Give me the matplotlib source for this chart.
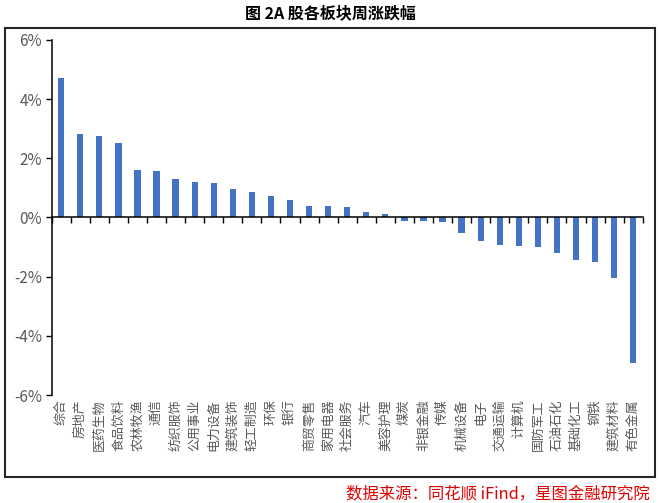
import numpy as np
import matplotlib.pyplot as plt
from matplotlib.patches import Rectangle
from matplotlib.ticker import FuncFormatter, FixedLocator, NullFormatter

plt.rcParams["font.family"] = ["Noto Sans CJK SC", "DejaVu Sans"]

# weekly change by sector (%)
sectors = ["综合", "房地产", "医药生物", "食品饮料", "农林牧渔", "通信", "纺织服饰",
           "公用事业", "电力设备", "建筑装饰", "轻工制造", "环保", "银行", "商贸零售",
           "家用电器", "社会服务", "汽车", "美容护理", "煤炭", "非银金融", "传媒",
           "机械设备", "电子", "交通运输", "计算机", "国防军工", "石油石化", "基础化工",
           "钢铁", "建筑材料", "有色金属"]
changes = [4.71, 2.82, 2.77, 2.52, 1.60, 1.58, 1.30,
           1.19, 1.18, 0.96, 0.87, 0.74, 0.59, 0.40,
           0.40, 0.37, 0.18, 0.13, -0.12, -0.12, -0.15,
           -0.54, -0.79, -0.93, -0.97, -0.99, -1.20, -1.42,
           -1.50, -2.04, -4.93]
yticks = [-6, -4, -2, 0, 2, 4, 6]

fig = plt.figure(figsize=(6.6, 5.03), dpi=100)
ax = fig.add_axes([0.0783, 0.2147, 0.8955, 0.7058])

x = np.arange(len(sectors))
ax.bar(x, changes, width=0.33, color="#4472C4", zorder=2)

ax.set_xlim(-0.5, len(sectors) - 0.5)
ax.set_ylim(-6, 6)
ax.set_yticks(yticks)
ax.yaxis.set_major_formatter(FuncFormatter(lambda v, p: f"{v:.0f}%"))
ax.tick_params(axis="y", direction="out", length=4, width=1, color="black",
               labelsize=11, labelcolor="#595959", pad=3)

# x axis drawn at zero with ticks between categories
ax.spines["bottom"].set_position(("data", 0))
ax.xaxis.set_major_locator(FixedLocator(np.arange(len(sectors) + 1) - 0.5))
ax.xaxis.set_major_formatter(NullFormatter())
ax.tick_params(axis="x", direction="out", length=4, width=1, color="black")
for side in ["top", "right"]:
    ax.spines[side].set_visible(False)
ax.spines["left"].set_linewidth(1.1)
ax.spines["bottom"].set_linewidth(1.1)

trans = ax.get_xaxis_transform()
for xi, name in zip(x, sectors):
    ax.text(xi, -0.012, name, rotation=90, ha="center", va="top",
            fontsize=9.3, color="#595959", transform=trans)

fig.text(0.5, 0.974, "图 2A 股各板块周涨跌幅", ha="center", va="center",
         fontsize=11.5, fontweight="bold", color="black")

fig.patches.append(Rectangle((0.008, 0.052), 0.984, 0.893, transform=fig.transFigure,
                             fill=False, edgecolor="#262626", linewidth=1.5))

fig.text(0.985, 0.018, "数据来源：同花顺 iFind，星图金融研究院", ha="right", va="center",
         fontsize=11.8, color="#E00000", style="italic")

fig.savefig("out.png", dpi=100)
